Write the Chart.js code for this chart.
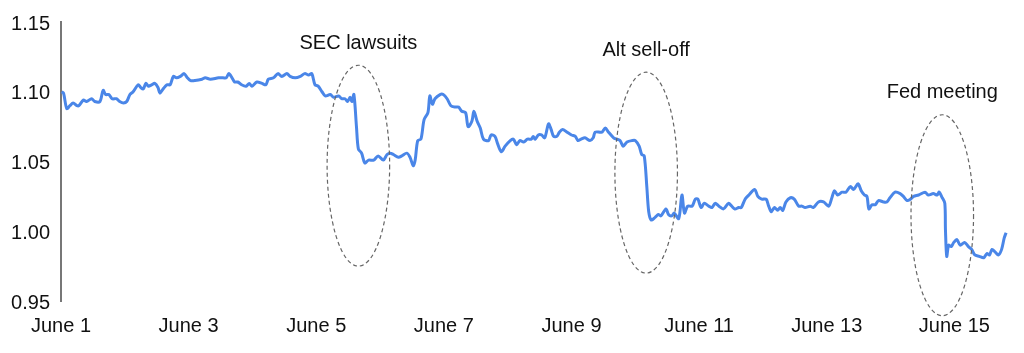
<!DOCTYPE html>
<html>
<head>
<meta charset="utf-8">
<script src="https://cdn.jsdelivr.net/npm/chart.js@4"></script>
<style>
  body { margin: 0; background: #fff; }
</style>
</head>
<body>
<canvas id="myChart" width="1024" height="353"></canvas>
<script>
// days since June 1 (0 = June 1, 00:00)
const days = [
  0.01, 0.04, 0.09, 0.14, 0.19, 0.25, 0.28, 0.35, 0.40, 0.48, 0.53, 0.61, 0.66, 0.70, 0.75, 0.80, 0.87, 0.92, 0.98,
  1.03, 1.08, 1.13, 1.21, 1.25, 1.29, 1.33, 1.37, 1.42, 1.47, 1.52, 1.55, 1.60, 1.66, 1.71, 1.76, 1.81, 1.87, 1.93, 1.98,
  2.03, 2.10, 2.21, 2.26, 2.34, 2.47, 2.54, 2.59, 2.63, 2.68, 2.72, 2.77, 2.83, 2.90, 2.95, 2.99,
  3.07, 3.15, 3.21, 3.25, 3.33, 3.40, 3.46, 3.54, 3.59, 3.67, 3.75, 3.82, 3.88, 3.93, 3.98,
  4.03, 4.09, 4.14, 4.22, 4.27, 4.35, 4.40, 4.45, 4.49, 4.53, 4.56, 4.59, 4.63, 4.66, 4.71, 4.76, 4.82, 4.90, 4.97,
  5.05, 5.11, 5.16, 5.21, 5.29, 5.34, 5.42, 5.47, 5.52, 5.55, 5.59, 5.64, 5.69, 5.75, 5.78, 5.82, 5.86, 5.94, 5.99,
  6.05, 6.11, 6.18, 6.23, 6.28, 6.34, 6.38, 6.44, 6.47, 6.52, 6.57, 6.62, 6.70, 6.74, 6.80, 6.84, 6.90, 6.96,
  7.04, 7.09, 7.14, 7.19, 7.25, 7.31, 7.37, 7.40, 7.43, 7.48, 7.53, 7.58, 7.64, 7.68, 7.72, 7.77, 7.81, 7.86, 7.93,
  8.00, 8.06, 8.10, 8.15, 8.21, 8.29, 8.34, 8.37, 8.45, 8.48, 8.53, 8.58, 8.66, 8.71, 8.76, 8.81, 8.87, 8.95,
  9.00, 9.06, 9.10, 9.14, 9.18, 9.21, 9.25, 9.31, 9.36, 9.40, 9.48, 9.52, 9.57, 9.61, 9.68, 9.73, 9.77, 9.82, 9.89, 9.94, 9.98,
  10.03, 10.08, 10.15, 10.20, 10.25, 10.31, 10.38, 10.46, 10.51, 10.56, 10.62, 10.66, 10.72, 10.78, 10.87, 10.92, 10.98,
  11.05, 11.09, 11.13, 11.18, 11.23, 11.27, 11.31, 11.36, 11.43, 11.49, 11.56, 11.61, 11.66, 11.74, 11.79, 11.87, 11.95,
  12.03, 12.08, 12.12, 12.17, 12.24, 12.30, 12.37, 12.42, 12.49, 12.54, 12.59, 12.63, 12.66, 12.71, 12.76, 12.81, 12.89, 12.94, 12.99,
  13.07, 13.15, 13.20, 13.26, 13.31, 13.36, 13.44, 13.54, 13.59, 13.67, 13.73, 13.76, 13.81, 13.85, 13.86, 13.88, 13.91, 13.95, 13.99,
  14.04, 14.09, 14.16, 14.22, 14.27, 14.32, 14.39, 14.46, 14.51, 14.55, 14.59, 14.64, 14.69, 14.74, 14.78, 14.81
];

const rates = [
  1.100, 1.099, 1.088, 1.090, 1.092, 1.090, 1.090, 1.094, 1.093, 1.095, 1.093, 1.093, 1.101, 1.098, 1.098, 1.095, 1.095, 1.093, 1.092,
  1.093, 1.098, 1.100, 1.105, 1.103, 1.102, 1.106, 1.104, 1.105, 1.106, 1.103, 1.099, 1.102, 1.105, 1.105, 1.111, 1.110, 1.111, 1.113, 1.110,
  1.108, 1.108, 1.109, 1.110, 1.109, 1.110, 1.110, 1.110, 1.113, 1.110, 1.107, 1.107, 1.105, 1.104, 1.106, 1.104,
  1.107, 1.106, 1.105, 1.109, 1.110, 1.113, 1.111, 1.113, 1.111, 1.110, 1.111, 1.113, 1.112, 1.113, 1.105,
  1.104, 1.100, 1.097, 1.098, 1.096, 1.097, 1.095, 1.095, 1.093, 1.096, 1.093, 1.098, 1.075, 1.059, 1.056, 1.049, 1.051, 1.051, 1.054,
  1.051, 1.055, 1.056, 1.055, 1.053, 1.054, 1.056, 1.053, 1.047, 1.051, 1.065, 1.066, 1.080, 1.085, 1.097, 1.091, 1.095, 1.098, 1.098,
  1.095, 1.090, 1.089, 1.089, 1.086, 1.085, 1.075, 1.079, 1.086, 1.079, 1.074, 1.066, 1.065, 1.069, 1.068, 1.063, 1.057, 1.061,
  1.065, 1.066, 1.062, 1.065, 1.064, 1.066, 1.066, 1.068, 1.066, 1.069, 1.069, 1.067, 1.077, 1.073, 1.068, 1.068, 1.071, 1.073, 1.071,
  1.069, 1.068, 1.065, 1.066, 1.067, 1.065, 1.067, 1.071, 1.071, 1.071, 1.074, 1.071, 1.067, 1.066, 1.065, 1.061, 1.064, 1.065,
  1.065, 1.061, 1.055, 1.054, 1.032, 1.014, 1.008, 1.010, 1.012, 1.011, 1.016, 1.012, 1.011, 1.013, 1.009, 1.026, 1.013, 1.018, 1.018, 1.023, 1.023,
  1.017, 1.020, 1.018, 1.017, 1.020, 1.018, 1.016, 1.020, 1.018, 1.016, 1.017, 1.017, 1.023, 1.026, 1.030, 1.025, 1.023,
  1.023, 1.018, 1.014, 1.017, 1.015, 1.017, 1.015, 1.021, 1.024, 1.023, 1.018, 1.018, 1.017, 1.018, 1.017, 1.021, 1.021,
  1.018, 1.024, 1.029, 1.026, 1.028, 1.028, 1.032, 1.030, 1.034, 1.029, 1.026, 1.025, 1.016, 1.019, 1.019, 1.022, 1.021, 1.021, 1.024,
  1.028, 1.027, 1.025, 1.022, 1.023, 1.025, 1.026, 1.028, 1.026, 1.027, 1.026, 1.028, 1.024, 1.020, 1.001, 0.982, 0.990, 0.989, 0.992,
  0.994, 0.990, 0.992, 0.989, 0.987, 0.983, 0.982, 0.981, 0.984, 0.983, 0.987, 0.985, 0.983, 0.987, 0.995, 0.999
];

// y axis ticks
const yTicks = [0.95, 1.00, 1.05, 1.10, 1.15];
// x axis tick days, labelled "June N"
const xTickDays = [0, 2, 4, 6, 8, 10, 12, 14];

// circled events
const eventLabels = ['SEC lawsuits', 'Alt sell-off', 'Fed meeting'];
const eventDays = [4.66, 9.17, 13.81];
const eventCenters = [1.047, 1.042, 1.0115];

const FONT = "'Liberation Sans', Arial, sans-serif";

const ellipsePlugin = {
  id: 'eventEllipses',
  afterDraw(chart) {
    const ctx = chart.ctx;
    const xs = chart.scales.x, ys = chart.scales.y;
    ctx.save();
    eventLabels.forEach((label, i) => {
      const cx = xs.getPixelForValue(eventDays[i]);
      const cy = ys.getPixelForValue(eventCenters[i]);
      const rx = xs.getPixelForValue(eventDays[i] + 0.49) - cx;
      const ry = cy - ys.getPixelForValue(eventCenters[i] + 0.072);
      ctx.beginPath();
      ctx.setLineDash([4, 3]);
      ctx.lineWidth = 1.2;
      ctx.strokeStyle = '#666';
      ctx.ellipse(cx, cy, rx, ry, 0, 0, Math.PI * 2);
      ctx.stroke();
      ctx.setLineDash([]);
      ctx.fillStyle = '#111';
      ctx.font = '20px ' + FONT;
      ctx.textAlign = 'center';
      ctx.textBaseline = 'middle';
      ctx.fillText(label, cx, cy - ry - 22);
    });
    ctx.restore();
  }
};

const myChart = new Chart(document.getElementById('myChart').getContext('2d'), {
  type: 'line',
  data: {
    datasets: [{
      data: days.map((d, i) => ({ x: d, y: rates[i] })),
      borderColor: '#4a86e8',
      borderWidth: 3,
      pointRadius: 0,
      tension: 0.3,
      fill: false
    }]
  },
  options: {
    responsive: false,
    animation: false,
    devicePixelRatio: 1,
    layout: { padding: { top: 22, right: 16, left: 0, bottom: 0 } },
    plugins: { legend: { display: false }, tooltip: { enabled: false } },
    scales: {
      x: {
        type: 'linear',
        min: 0,
        max: 14.84,
        afterFit: (s) => { s.height = 52; },
        afterBuildTicks: (s) => { s.ticks = xTickDays.map(v => ({ value: v })); },
        grid: { display: false },
        border: { display: false },
        ticks: {
          padding: 5,
          color: '#111',
          font: { family: FONT, size: 20 },
          maxRotation: 0,
          autoSkip: false,
          callback: (v) => 'June ' + (v + 1)
        }
      },
      y: {
        min: 0.95,
        max: 1.15,
        afterFit: (s) => { s.width = 61; },
        afterBuildTicks: (s) => { s.ticks = yTicks.map(v => ({ value: v })); },
        grid: { display: false },
        border: { display: true, color: '#777', width: 2 },
        ticks: {
          padding: 3,
          labelOffset: 2,
          color: '#111',
          font: { family: FONT, size: 20 },
          callback: (v) => v.toFixed(2)
        }
      }
    }
  },
  plugins: [ellipsePlugin]
});
</script>
</body>
</html>
